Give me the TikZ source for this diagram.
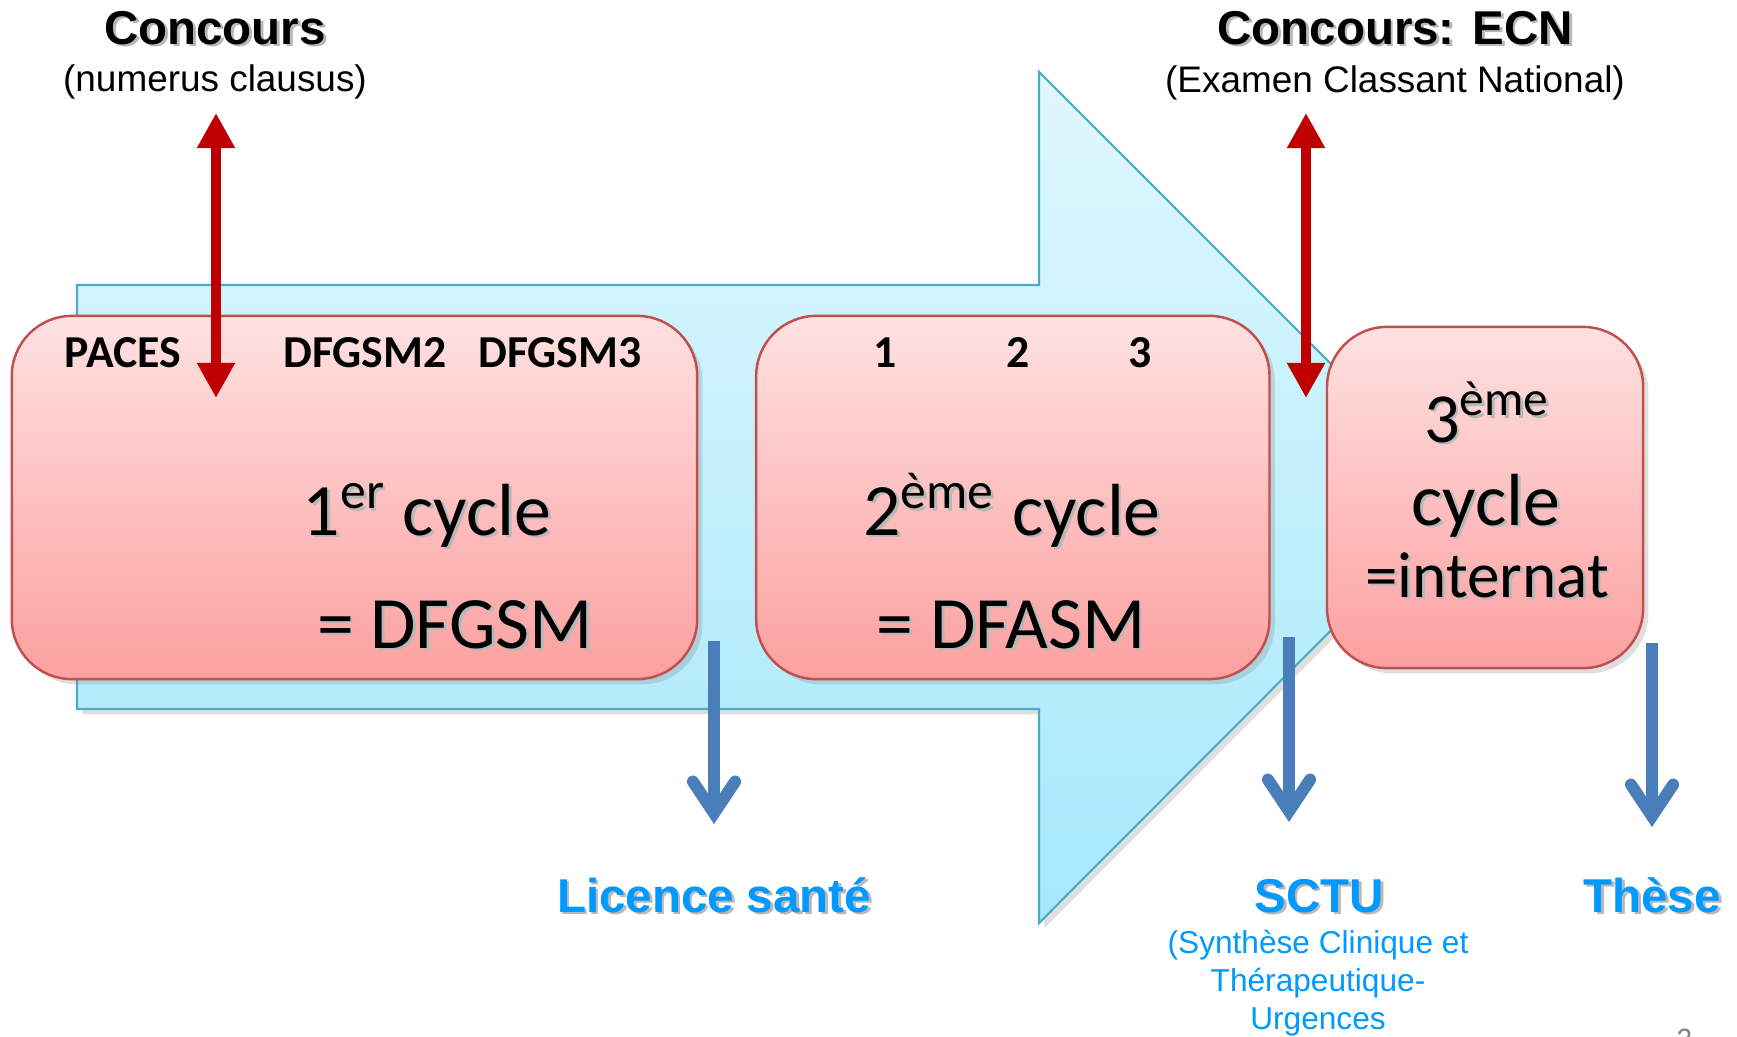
\documentclass[tikz,border=0pt]{standalone}
\usepackage{fontspec}
\setmainfont{Carlito}
\newfontfamily\arialfont{Liberation Sans}
\usepackage{tikz}
\usetikzlibrary{arrows.meta,positioning,shadows}

\definecolor{boxtop}{RGB}{254,225,225}
\definecolor{boxbot}{RGB}{252,160,160}
\definecolor{boxline}{RGB}{192,80,77}
\definecolor{flowtop}{RGB}{224,247,254}
\definecolor{flowbot}{RGB}{165,232,250}
\definecolor{flowline}{RGB}{75,172,198}
\definecolor{exitblue}{RGB}{74,126,187}
\definecolor{labelblue}{RGB}{0,153,255}
\definecolor{concred}{RGB}{192,0,0}

\newcommand{\shadowed}[1]{\makebox[0pt][l]{\kern0.8pt\raisebox{-0.8pt}[0pt][0pt]{\textcolor{black!28}{#1}}}#1}

\begin{document}
\begin{tikzpicture}[
		x=0.01cm, y=-0.01cm,
		cyclebox/.style={
			rectangle,
			rounded corners=0.6cm,
			draw=boxline,
			line width=0.7pt,
			top color=boxtop,
			bottom color=boxbot,
			minimum height=3.63cm,
			drop shadow={opacity=0.25, shadow xshift=1.5pt, shadow yshift=-1.5pt}
		},
		yearlabel/.style={
			font=\fontsize{13}{15}\selectfont\bfseries,
			inner sep=0pt
		},
		cycletext/.style={
			font=\fontsize{21}{25}\selectfont,
			inner sep=0pt
		},
		title/.style={
			font=\arialfont\bfseries\fontsize{13.5}{16}\selectfont,
			inner sep=0pt
		},
		subtitle/.style={
			font=\arialfont\fontsize{10.5}{12.6}\selectfont,
			inner sep=0pt
		},
		exitlabel/.style={
			font=\arialfont\bfseries\fontsize{13.5}{16}\selectfont,
			text=labelblue,
			inner sep=0pt
		},
		exitnote/.style={
			font=\arialfont\fontsize{9}{10.8}\selectfont,
			text=labelblue,
			align=center,
			inner sep=0pt
		},
		concarrow/.style={
			{Triangle[length=10pt,width=10.2pt]}-{Triangle[length=10pt,width=10.2pt]},
			line width=3.1pt,
			draw=concred
		},
		exitarrow/.style={
			-{Straight Barb[length=9pt,width=12pt,line cap=round,line join=miter]},
			line width=3.4pt,
			draw=exitblue
		}
		]
		\useasboundingbox (0,0) rectangle (1737,1036);
		
		% the big arrow behind the blocks
		\path[draw=flowline, line width=0.6pt, top color=flowtop, bottom color=flowbot,
			drop shadow={opacity=0.25, shadow xshift=1.5pt, shadow yshift=-1.5pt}]
			(77,285) -- (1039,285) -- (1039,72) -- (1464,497) -- (1039,923)
			-- (1039,709) -- (77,709) -- cycle;
		
		% We start by placing the blocks
		\node [cyclebox, minimum width=6.85cm] (cycle1) at (354.5,497.5) {};
		\node [cyclebox, minimum width=5.13cm, right=0.565cm of cycle1] (cycle2) {};
		\node [cyclebox, minimum width=3.16cm, minimum height=3.41cm, right=0.55cm of cycle2] (cycle3) {};
		
		% years
		\node [yearlabel, anchor=base] (paces) at (123,367) {PACES};
		\node [yearlabel, anchor=base] (dfgsm2) at (365,367) {DFGSM2};
		\node [yearlabel, anchor=base] (dfgsm3) at (560,367) {DFGSM3};
		\node [yearlabel, anchor=base] (year1) at (885,367) {1};
		\node [yearlabel, anchor=base] (year2) at (1018,367) {2};
		\node [yearlabel, anchor=base] (year3) at (1140,367) {3};
		
		% text of the blocks
		\node [cycletext, anchor=base] (name1) at (427,535) {\shadowed{1\textsuperscript{er} cycle}};
		\node [cycletext, anchor=base] (diplo1) at (455,648) {\shadowed{= DFGSM}};
		\node [cycletext, anchor=base] (name2) at (1012,535) {\shadowed{2\textsuperscript{ème} cycle}};
		\node [cycletext, anchor=base] (diplo2) at (1011,648) {\shadowed{= DFASM}};
		\node [cycletext, font=\fontsize{20}{24}\selectfont, anchor=base] (name3) at (1487,442) {\shadowed{3\textsuperscript{ème}}};
		\node [cycletext, anchor=base] (name3b) at (1486,525) {\shadowed{cycle}};
		\node [cycletext, font=\fontsize{18.5}{22}\selectfont, anchor=base] (diplo3) at (1487,597) {\shadowed{=internat}};
		
		% the two concours
		\node [title, anchor=base] (conc1) at (215,44) {\shadowed{Concours}};
		\node [subtitle, anchor=base] (numerus) at (215,91) {(numerus clausus)};
		\node [title, anchor=base] (conc2) at (1395,44) {\shadowed{Concours: ECN}};
		\node [subtitle, anchor=base] (ecn) at (1395,92) {(Examen Classant National)};
		
		\coordinate (conc1top) at (216,113);
		\coordinate (conc1bot) at (216,398);
		\coordinate (conc2top) at (1306,113);
		\coordinate (conc2bot) at (1306,398);
		\draw [concarrow] (conc1top) -- (conc1bot);
		\draw [concarrow] (conc2top) -- (conc2bot);
		
		% exits
		\node [exitlabel, anchor=base] (licence) at (714,912) {\shadowed{Licence santé}};
		\node [exitlabel, anchor=base] (sctu) at (1319,912) {\shadowed{SCTU}};
		\node [exitnote, anchor=base] (sctunote) at (1318,1029) {(Synthèse Clinique et\\Thérapeutique-\\Urgences};
		\node [exitlabel, anchor=base] (these) at (1652,912) {\shadowed{Thèse}};
		
		\coordinate (exit1) at (714,641);
		\coordinate (exit1end) at (714,824);
		\coordinate (exit2) at (1289,637);
		\coordinate (exit2end) at (1289,822);
		\coordinate (exit3) at (1652,643);
		\coordinate (exit3end) at (1652,827);
		\draw [exitarrow] (exit1) -- (exit1end);
		\draw [exitarrow] (exit2) -- (exit2end);
		\draw [exitarrow] (exit3) -- (exit3end);
		
		\node [font=\fontsize{9}{10}\selectfont, text=gray, anchor=north, inner sep=0pt] (pagenum) at (1684,1028) {3};
		
\end{tikzpicture}
\end{document}
